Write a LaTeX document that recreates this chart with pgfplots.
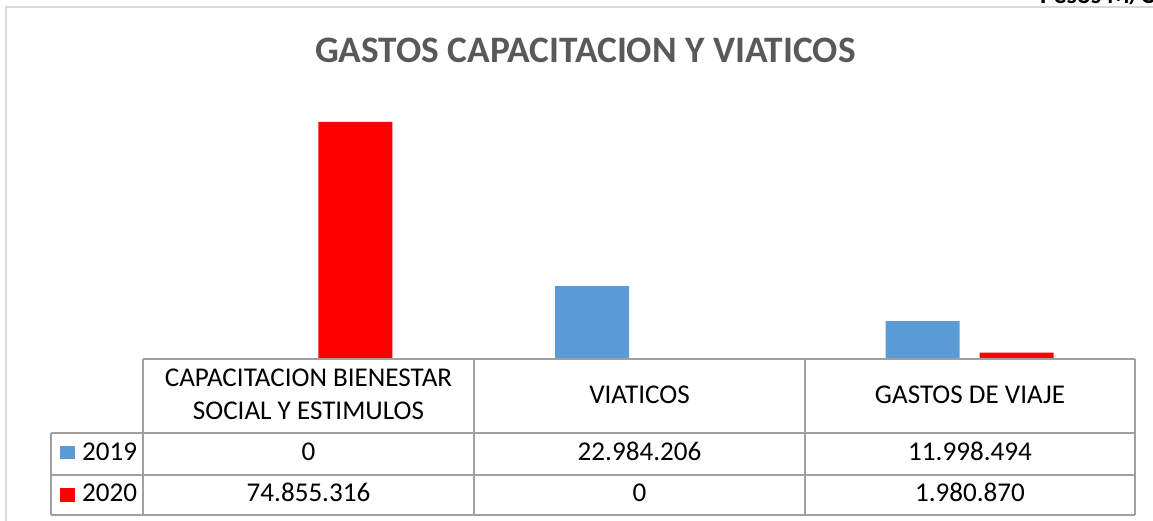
\documentclass[border=0pt]{standalone}
\usepackage{pgfplots}
\pgfplotsset{compat=1.18}
\usepackage{fontspec}
\setmainfont{Carlito}
\definecolor{bar19}{HTML}{5B9BD5}
\definecolor{bar20}{HTML}{FF0000}
\definecolor{titlegray}{HTML}{595959}
\definecolor{gridgray}{HTML}{A0A0A0}
\definecolor{framegray}{HTML}{D9D9D9}

\begin{document}
\begin{tikzpicture}[x=1bp,y=1bp]
  \useasboundingbox (0,0) rectangle (1153,521);
  % outer chart frame (cut by the page)
  \draw[framegray, line width=2bp] (6,-10) -- (6,514) -- (1170,514);
  % unit note, mostly cut off at the top as in the source
  \node[anchor=base west, inner sep=0pt, font=\bfseries\fontsize{26}{30}\selectfont] at (1040,517) {Pesos M/C};
  % title
  \node[anchor=base, inner sep=0pt, text=titlegray, font=\bfseries\fontsize{37.5}{40}\selectfont] at (585.5,458) {GASTOS CAPACITACION Y VIATICOS};

  \begin{axis}[
    at={(143bp,162bp)}, anchor=south west,
    scale only axis,
    width=992bp, height=253.3bp,
    hide axis, clip=false,
    xmin=0, xmax=3,
    ymin=0, ymax=80000000,
    ybar=20bp, bar width=74bp,
  ]
    \addplot[draw=none, fill=bar19] coordinates {(0.5,0) (1.5,22984206) (2.5,11998494)};
    \addplot[draw=none, fill=bar20] coordinates {(0.5,74855316) (1.5,0) (2.5,1980870)};
  \end{axis}

  % data table under the bars
  \begin{scope}[gridgray, line width=1.5bp]
    \draw (143,162) -- (1135,162);
    \draw (51,88) -- (1135,88);
    \draw (51,46) -- (1135,46);
    \draw (51,6) -- (1135,6);
    \draw (51,88) -- (51,6);
    \foreach \xx in {143,474,805,1135} \draw (\xx,162) -- (\xx,6);
  \end{scope}
  \begin{scope}[every node/.style={anchor=base, inner sep=0pt, font=\fontsize{27.2}{30}\selectfont}]
    \node at (308.5,134) {CAPACITACION BIENESTAR};
    \node at (308.5,101) {SOCIAL Y ESTIMULOS};
    \node at (639.5,117) {VIATICOS};
    \node at (970,117) {GASTOS DE VIAJE};
    \node at (308.5,60) {0};
    \node at (639.5,60) {22.984.206};
    \node at (970,60) {11.998.494};
    \node at (308.5,19) {74.855.316};
    \node at (639.5,19) {0};
    \node at (970,19) {1.980.870};
    \node[anchor=base west] at (82,60) {2019};
    \node[anchor=base west] at (82,19) {2020};
  \end{scope}
  \fill[bar19] (60,62) rectangle (75,75);
  \fill[bar20] (60,19) rectangle (75,33);
\end{tikzpicture}
\end{document}
